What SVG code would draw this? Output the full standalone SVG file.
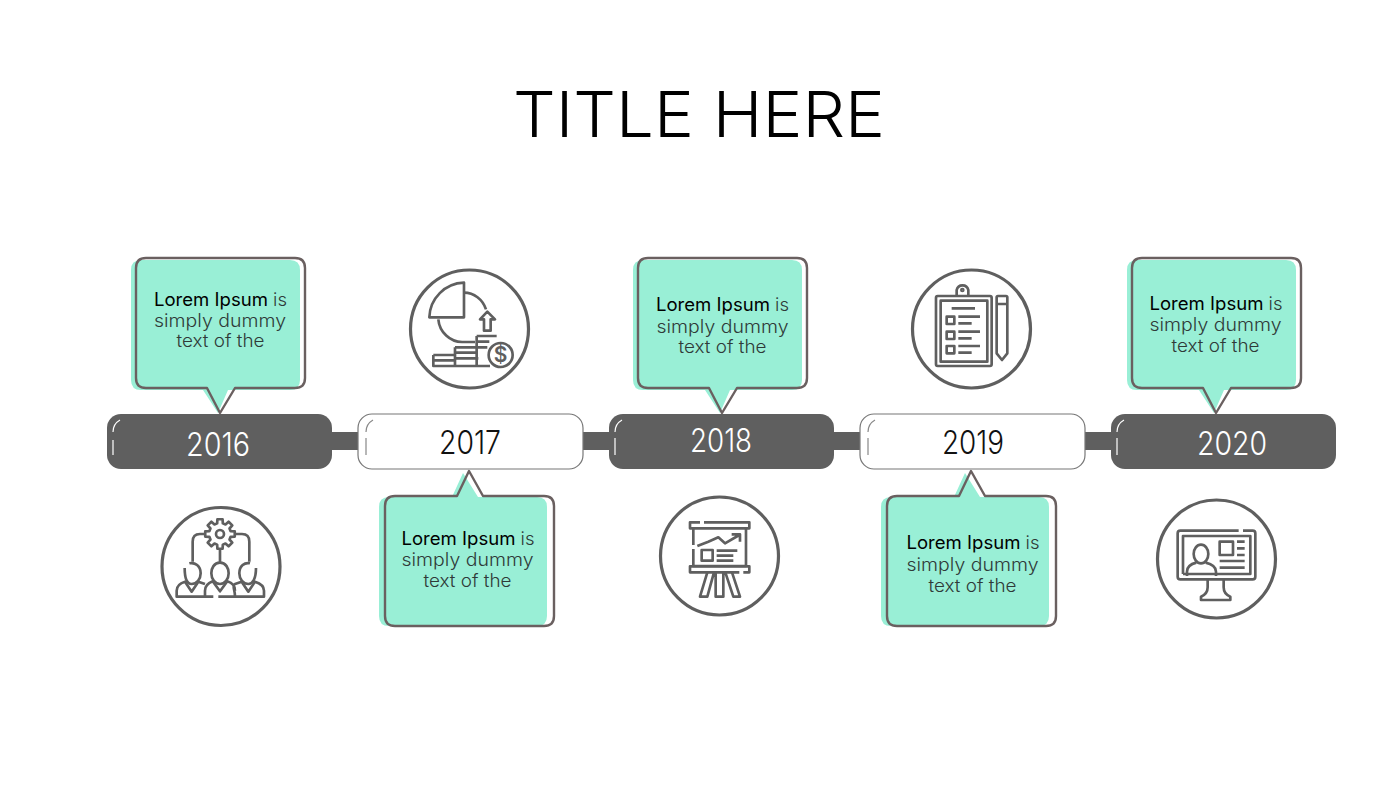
<svg xmlns="http://www.w3.org/2000/svg" width="1400" height="788" viewBox="0 0 1400 788">
<style>
text{font-family:"Inter","Lato","Liberation Sans",sans-serif;text-anchor:middle}
.title{font-size:63px;font-weight:300;fill:#000}
.yr{font-size:32px;font-weight:300}
.body{font-size:18px;font-weight:300;fill:#2f3a38}
.b{font-weight:400;fill:#000}
.dark{fill:#5f5f5f}
.light{fill:#fff;stroke:#777;stroke-width:1.2}
.teal{fill:#99efd6}
.out{fill:none;stroke:#6a6060;stroke-width:2.4;stroke-linejoin:round}
.ring{fill:#fff;stroke:#5f5f5f;stroke-width:3.2}
.ic{fill:none;stroke:#5f5f5f;stroke-width:8;stroke-linejoin:round}
.hl{fill:none;stroke-width:1.2}
</style>
<defs>
<path id="up-teal" class="teal" d="M141 260H290Q300 260 300 270V380Q300 390 290 390H228L218 413L203 390H141Q131 390 131 380V270Q131 260 141 260Z"/>
<path id="up-out" class="out" d="M146 258H295Q305 258 305 268V378Q305 388 295 388H235L220 413L207 388H146Q136 388 136 378V268Q136 258 146 258Z"/>
<path id="dn-teal" class="teal" d="M389 497H452L463 473L478 497H537Q547 497 547 507V616Q547 626 537 626H389Q379 626 379 616V507Q379 497 389 497Z"/>
<path id="dn-out" class="out" d="M395 496H457L469 471L483 496H544Q554 496 554 506V616Q554 626 544 626H395Q385 626 385 616V506Q385 496 395 496Z"/>
</defs>
<rect width="1400" height="788" fill="#fff"/>
<text class="title" x="699" y="137" textLength="372" lengthAdjust="spacingAndGlyphs">TITLE HERE</text>
<g id="connectors" class="dark">
<rect x="330" y="432" width="30" height="18"/><rect x="581" y="432" width="30" height="18"/><rect x="832" y="432" width="30" height="18"/><rect x="1083" y="432" width="30" height="18"/>
</g>

<g id="node-2016">
<use href="#up-teal"/><use href="#up-out"/>
<text class="body" x="220.500" y="306" textLength="133" lengthAdjust="spacingAndGlyphs"><tspan class="b">Lorem Ipsum</tspan> is</text>
<text class="body" x="220" y="327" textLength="132" lengthAdjust="spacingAndGlyphs">simply dummy</text>
<text class="body" x="220.500" y="347" textLength="88" lengthAdjust="spacingAndGlyphs">text of the</text>
<rect class="dark" x="107" y="414" width="225" height="55" rx="14"/>
<path class="hl" stroke="#fff" d="M120 420Q113 424 113 432M113 440V455"/>
<text class="yr" x="218" y="456" fill="#fff" textLength="64" lengthAdjust="spacingAndGlyphs">2016</text>
<circle class="ring" cx="221" cy="566.500" r="59"/>
<g transform="translate(150 500) scale(.3333)" class="ic">
<circle cx="210" cy="102" r="12"/>
<path transform="translate(210 102)" d="M-8.500-31.900L-7.800-44.300H7.800L8.500-31.900L16.500-28.600L25.800-36.900L36.900-25.800L28.600-16.500L31.900-8.500L44.300-7.800V7.800L31.900 8.500L28.600 16.500L36.900 25.800L25.800 36.900L16.500 28.600L8.500 31.900L7.800 44.300H-7.800L-8.500 31.900L-16.500 28.600L-25.800 36.900L-36.900 25.800L-28.600 16.500L-31.900 8.500L-44.300 7.800V-7.800L-31.900-8.500L-28.600-16.500L-36.900-25.800L-25.800-36.900L-16.500-28.600Z"/>
<path d="M166 102H150Q128 102 128 125V185M254 102H276Q298 102 298 125V185M210 147V186"/>
<path d="M118 190C135 186 152 198 152 220C152 238 140 252 125 252C112 252 104 236 104 204"/>
<path d="M210 188C228 188 236 205 236 220C236 238 224 252 210 252C196 252 184 238 184 220C184 205 192 188 210 188Z"/>
<path d="M300 190C284 186 268 198 268 220C268 238 280 252 295 252C308 252 318 236 318 204"/>
<path d="M190 290H80V272C80 255 95 248 105 245L125 275L145 245L165 252M205 290H342V272C342 255 325 248 315 245L295 275L275 245L255 252C245 256 255 270 255 288M165 288V272C165 255 178 248 188 244L210 274L232 244C245 248 255 258 255 272"/>
</g>
</g>

<g id="node-2017">
<use href="#dn-teal"/><use href="#dn-out"/>
<text class="body" x="468" y="545" textLength="133" lengthAdjust="spacingAndGlyphs"><tspan class="b">Lorem Ipsum</tspan> is</text>
<text class="body" x="467.500" y="566" textLength="132" lengthAdjust="spacingAndGlyphs">simply dummy</text>
<text class="body" x="467.500" y="587" textLength="88" lengthAdjust="spacingAndGlyphs">text of the</text>
<rect class="light" x="358" y="414" width="225" height="55" rx="14"/>
<path class="hl" stroke="#888" d="M373 420Q366 424 366 432M366 438V455"/>
<text class="yr" x="470" y="454" fill="#111" textLength="62" lengthAdjust="spacingAndGlyphs">2017</text>
<circle class="ring" cx="469.500" cy="329" r="59"/>
<g transform="translate(400 260) scale(.3333)" class="ic">
<path d="M192 68V172H88C90 115 135 70 192 68Z"/>
<path d="M192 98C222 98 248 118 258 148M115 178C118 215 150 248 190 246H225"/>
<path d="M262 155L285 178H272V212H252V178H240Z"/>
<path d="M100 285V318H270M100 285H165M100 301H165M120 285H155M165 262V318M165 262H230M165 278H230M165 295H235M230 228V318M230 228H290M230 245H268M230 262H262"/>
<circle cx="302" cy="285" r="36" fill="#fff"/>
</g>
<text x="500.500" y="362" font-size="21" font-weight="600" fill="#5f5f5f">$</text>
</g>

<g id="node-2018">
<g transform="translate(502 0)"><use href="#up-teal"/><use href="#up-out"/></g>
<text class="body" x="722.500" y="311" textLength="133" lengthAdjust="spacingAndGlyphs"><tspan class="b">Lorem Ipsum</tspan> is</text>
<text class="body" x="722.500" y="333" textLength="132" lengthAdjust="spacingAndGlyphs">simply dummy</text>
<text class="body" x="722.500" y="353" textLength="88" lengthAdjust="spacingAndGlyphs">text of the</text>
<rect class="dark" x="609" y="414" width="225" height="55" rx="14"/>
<path class="hl" stroke="#fff" d="M622 420Q615 424 615 432M615 438V455"/>
<text class="yr" x="721" y="452" fill="#fff" textLength="62" lengthAdjust="spacingAndGlyphs">2018</text>
<circle class="ring" cx="719.500" cy="556" r="59"/>
<g transform="translate(650 490) scale(.3333)" class="ic">
<path d="M150 97H120V115H298V97H162"/>
<path d="M130 115V165M130 177V228H288V115"/>
<path d="M142 168L175 155L205 142L225 160L268 135M245 133H270V155"/>
<rect x="155" y="180" width="33" height="32"/>
<path d="M200 182H262M200 197H250M200 212H250"/>
<path d="M280 247H298V229H120V247H268"/>
<path d="M172 247L150 320H172L192 247M197 247V320H220V247M226 247L250 320H270L246 247"/>
</g>
</g>

<g id="node-2019">
<g transform="translate(502 0)"><use href="#dn-teal"/><use href="#dn-out"/></g>
<text class="body" x="973" y="549" textLength="133" lengthAdjust="spacingAndGlyphs"><tspan class="b">Lorem Ipsum</tspan> is</text>
<text class="body" x="972.500" y="571" textLength="132" lengthAdjust="spacingAndGlyphs">simply dummy</text>
<text class="body" x="972.500" y="592" textLength="88" lengthAdjust="spacingAndGlyphs">text of the</text>
<rect class="light" x="860" y="414" width="225" height="55" rx="14"/>
<path class="hl" stroke="#888" d="M875 420Q868 424 868 432M868 438V455"/>
<text class="yr" x="973" y="454" fill="#111" textLength="62" lengthAdjust="spacingAndGlyphs">2019</text>
<circle class="ring" cx="971.500" cy="329" r="59"/>
<g transform="translate(900 260) scale(.3333)" class="ic">
<rect x="108" y="108" width="167" height="210" rx="5"/>
<path d="M122 122H262V305H122Z"/>
<path d="M170 106V90A18 18 0 0 1 205 90V106"/>
<circle cx="187" cy="90" r="3"/>
<path d="M155 145H225M175 170H240M175 190H215M175 215H240M175 235H215M175 258H240M175 278H215"/>
<rect x="140" y="170" width="23" height="22"/><rect x="140" y="215" width="23" height="22"/><rect x="140" y="258" width="23" height="22"/>
<path d="M290 112Q290 108 294 108H318Q322 108 322 112V280L306 300L290 280ZM290 132H322"/>
</g>
</g>

<g id="node-2020">
<g transform="translate(996 0)"><use href="#up-teal"/><use href="#up-out"/></g>
<text class="body" x="1216" y="310" textLength="133" lengthAdjust="spacingAndGlyphs"><tspan class="b">Lorem Ipsum</tspan> is</text>
<text class="body" x="1215.500" y="331" textLength="132" lengthAdjust="spacingAndGlyphs">simply dummy</text>
<text class="body" x="1215.500" y="352" textLength="88" lengthAdjust="spacingAndGlyphs">text of the</text>
<rect class="dark" x="1111" y="414" width="225" height="55" rx="14"/>
<path class="hl" stroke="#fff" d="M1124 420Q1117 424 1117 432M1117 438V455"/>
<text class="yr" x="1232" y="455" fill="#fff" textLength="70" lengthAdjust="spacingAndGlyphs">2020</text>
<circle class="ring" cx="1216.500" cy="559" r="59"/>
<g transform="translate(1147 490) scale(.3333)" class="ic">
<path d="M275 122H100Q92 122 92 130V260Q92 268 100 268H317Q325 268 325 260V130Q325 122 317 122H288"/>
<path d="M108 252V138H310V252H108"/>
<ellipse cx="162" cy="192" rx="22" ry="28"/>
<path d="M120 258V245C120 228 132 222 148 218M176 218C192 222 207 228 207 245V258"/>
<rect x="218" y="155" width="40" height="40"/>
<path d="M270 155H293M270 175H293M270 195H293M218 213H293M218 233H293"/>
<path d="M182 268V292C182 308 172 316 162 320V330H250V320C240 316 230 308 230 292V268"/>
</g>
</g>
</svg>
